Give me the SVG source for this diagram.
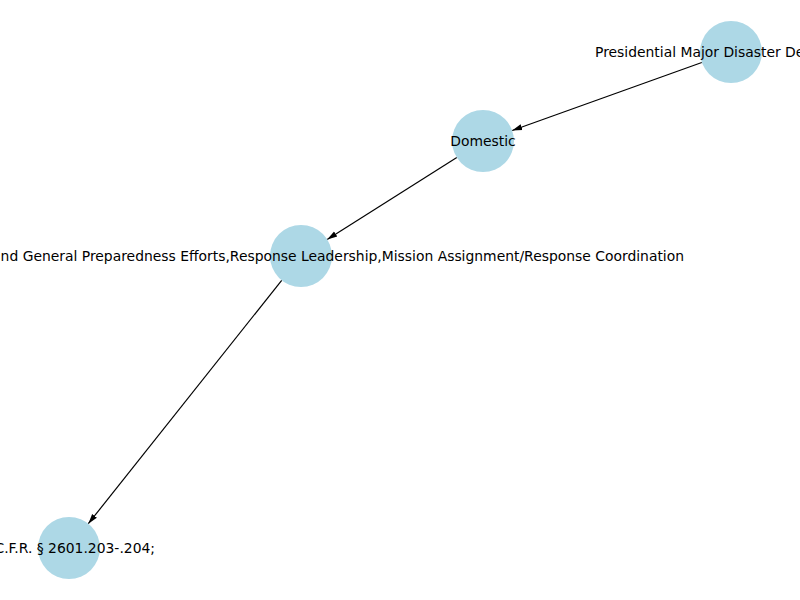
<svg xmlns="http://www.w3.org/2000/svg" width="800" height="600" viewBox="0 0 800 600">
<defs>
<style>
.node{fill:#add8e6;}
.lbl{font-family:"DejaVu Sans",sans-serif;font-size:13.9px;fill:#000;dominant-baseline:central;}
.edge{stroke:#000;stroke-width:1.2;fill:none;marker-end:url(#arr);}
</style>
<marker id="arr" markerUnits="userSpaceOnUse" markerWidth="12" markerHeight="10" refX="10" refY="4" orient="auto" viewBox="0 0 12 8">
<path d="M0,1 L10,4 L0,7 Z" fill="#000"/>
</marker>
</defs>
<rect width="800" height="600" fill="#fff"/>
<g id="edges">
<line class="edge" x1="701.8" y1="62.5" x2="512.2" y2="130.5"/>
<line class="edge" x1="456.8" y1="157.6" x2="327.2" y2="239.4"/>
<line class="edge" x1="281.7" y1="280.3" x2="88.3" y2="523.7"/>
</g>
<g id="n1">
<circle class="node" cx="731" cy="52" r="31"/>
<text class="lbl" x="595" y="52">Presidential Major Disaster De</text>
</g>
<g id="n2">
<circle class="node" cx="483" cy="141" r="31"/>
<text class="lbl" x="483" y="141" text-anchor="middle">Domestic</text>
</g>
<g id="n3">
<circle class="node" cx="301" cy="256" r="31"/>
<text class="lbl" x="684" y="256" text-anchor="end">and General Preparedness Efforts,Response Leadership,Mission Assignment/Response Coordination</text>
</g>
<g id="n4">
<circle class="node" cx="69" cy="548" r="31"/>
<text class="lbl" x="155" y="548" text-anchor="end">C.F.R. § 2601.203-.204;</text>
</g>
</svg>
